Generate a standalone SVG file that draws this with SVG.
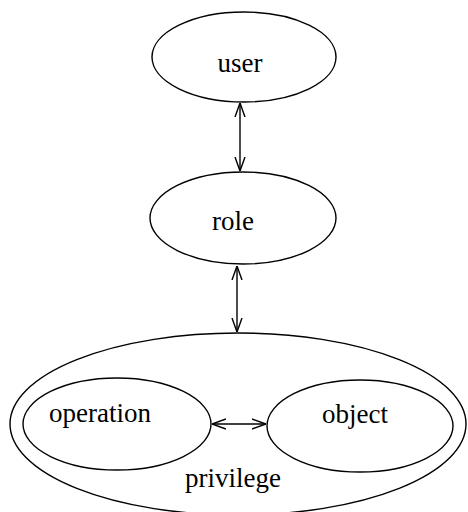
<svg xmlns="http://www.w3.org/2000/svg" width="468" height="512" viewBox="0 0 468 512">
<style>
.n{fill:none;stroke:#000;stroke-width:1.4}
.t{font-family:"Liberation Serif","Times New Roman",serif;font-size:27px;fill:#000;text-anchor:middle}
.c{fill:none;stroke:#000;stroke-width:1.4;marker-start:url(#a);marker-end:url(#a)}
</style>
<defs>
<marker id="a" viewBox="0 0 14 12" refX="14" refY="6" markerWidth="14" markerHeight="12" markerUnits="userSpaceOnUse" orient="auto-start-reverse">
<path d="M0,1 L14,6 L0,11" fill="none" stroke="#000" stroke-width="1.4"/>
</marker>
</defs>
<rect width="468" height="512" fill="#fff"/>
<g id="user"><ellipse class="n" cx="244" cy="57" rx="92" ry="45"/><text class="t" x="240" y="72">user</text></g>
<g id="role"><ellipse class="n" cx="243" cy="218" rx="93" ry="46"/><text class="t" x="233" y="230">role</text></g>
<g id="privilege"><ellipse class="n" cx="238" cy="424" rx="228" ry="91"/><text class="t" x="233" y="487">privilege</text></g>
<g id="operation"><ellipse class="n" cx="117" cy="424" rx="94" ry="46"/><text class="t" x="100" y="422">operation</text></g>
<g id="object"><ellipse class="n" cx="360" cy="426" rx="93" ry="46"/><text class="t" x="355" y="423">object</text></g>
<g id="connectors">
<line class="c" x1="240" y1="103" x2="240" y2="171"/>
<line class="c" x1="237" y1="266" x2="237" y2="332"/>
<line class="c" x1="212" y1="424" x2="266" y2="424"/>
</g>
</svg>
